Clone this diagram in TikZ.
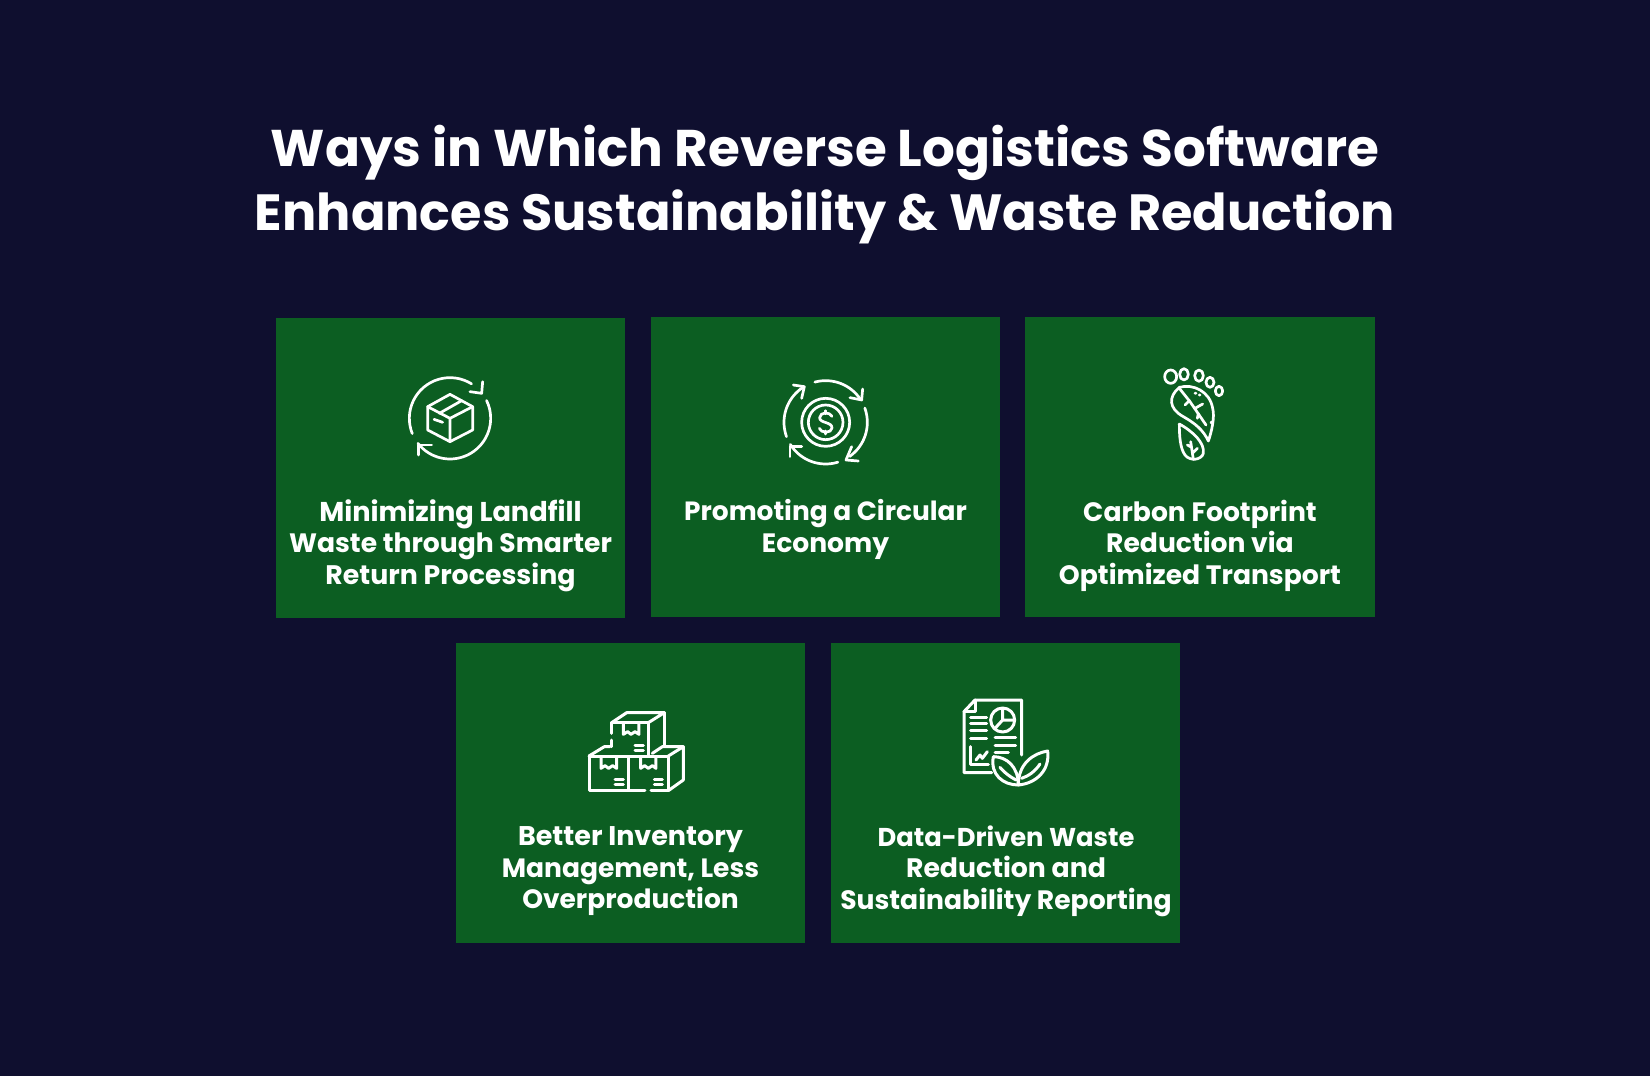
\documentclass[tikz,border=0pt]{standalone}
\usepackage{fontspec}
\setmainfont{Poppins}[BoldFont={Poppins Bold}]
\definecolor{bgnavy}{HTML}{0F0F2F}
\definecolor{cardgreen}{HTML}{0C5E22}
\newcommand{\fsz}[1]{\fontsize{#1}{31.5}\selectfont}
\tikzset{
  card/.style={fill=cardgreen,draw=none,minimum width=349.5pt,minimum height=300pt,inner sep=0pt,outer sep=0pt},
  cardtext/.style={text=white,align=center,font=\fontsize{26.6}{31.5}\selectfont\bfseries,inner sep=0pt},
  titletext/.style={text=white,align=center,font=\fontsize{50.9}{64}\selectfont\bfseries,inner sep=0pt},
  ico/.style={draw=white,line width=2.7pt,line cap=round,line join=round,fill=none},
}
\newcommand{\ringarc}[5]{\draw[ico] plot[smooth,samples=25,domain=#4:#5] ({#1+#3*cos(\x)},{#2+#3*sin(\x)});}
\begin{document}
\begin{tikzpicture}[x=1pt,y=-1pt]
\useasboundingbox (0,0) rectangle (1650,1076);
\fill[bgnavy] (0,0) rectangle (1650,1076);
\node[titletext] (title) at (825,185) {\fontsize{51.6}{64}\selectfont Ways in Which Reverse Logistics Software\\\fontsize{50.9}{64}\selectfont Enhances Sustainability \& Waste Reduction};
\node[card] (c1) at (450.5,468) {};
\node[card] (c2) at (825.5,467) {};
\node[card] (c3) at (1200,467) {};
\node[card] (c4) at (630.5,793) {};
\node[card] (c5) at (1005.5,792.5) {};
\node[cardtext] (t1) at (450.5,545.5) {\fsz{27.2}Minimizing Landfill\\\fsz{26.6}Waste through Smarter\\\fsz{26.8}Return Processing};
\node[cardtext,anchor=north] (t2) at (825.5,499.5) {\fsz{26.4}Promoting a Circular\\\fsz{26.6}Economy};
\node[cardtext] (t3) at (1200,545.5) {Carbon Footprint\\Reduction via\\Optimized Transport};
\node[cardtext] (t4) at (630.5,871.5) {\fsz{27}Better Inventory\\\fsz{26.5}Management, Less\\\fsz{26.5}Overproduction};
\node[cardtext] (t5) at (1006,871) {\fsz{25.8}Data-Driven Waste\\\fsz{26.7}Reduction and\\\fsz{26.6}Sustainability Reporting};
% icon 1
\begin{scope}[shift={(380,360)},x=0.3333pt,y=-0.3333pt]
\ringarc{210}{175}{122}{158}{302}
\draw[ico] (308,65) -- (305,100) -- (270,95);
\ringarc{210}{175}{122}{-26}{142}
\draw[ico] (115,285) -- (115,255) -- (155,255);
\draw[ico] (210,103) -- (278,140) -- (278,210) -- (210,245) -- (143,210) -- (143,140) -- cycle;
\draw[ico] (143,140) -- (210,175) -- (278,140) (210,175) -- (210,245);
\draw[ico] (245,122) -- (178,160);
\draw[ico] (162,178) -- (188,187);
\end{scope}
% icon 2
\begin{scope}[shift={(760,365)},x=0.3333pt,y=-0.3333pt]
\draw[ico] (197,172) circle[radius=72];
\draw[ico] (197,172) circle[radius=52];
\ringarc{197}{172}{125}{-105}{-33}
\draw[ico] (308,72) -- (305,105) -- (270,98);
\ringarc{197}{172}{125}{-20}{55}
\draw[ico] (295,288) -- (258,285) -- (275,245);
\ringarc{197}{172}{125}{73}{148}
\draw[ico] (90,275) -- (90,245) -- (125,245);
\ringarc{197}{172}{125}{160}{237}
\draw[ico] (100,60) -- (133,65) -- (125,100);
\draw[ico] (216,154) .. controls (210,140) and (180,140) .. (179,158) .. controls (178,175) and (217,170) .. (216,189) .. controls (215,206) and (182,205) .. (178,190);
\draw[ico] (197,137) -- (197,146) (197,198) -- (197,207);
\end{scope}
% icon 3
\begin{scope}[shift={(1140,360)},x=0.3333pt,y=-0.3333pt]
\draw[ico] (92,50) ellipse[x radius=18,y radius=20];
\draw[ico] (132,43) ellipse[x radius=13,y radius=17];
\draw[ico] (177,47) ellipse[x radius=13,y radius=17];
\draw[ico] (210,67) ellipse[x radius=12,y radius=15];
\draw[ico] (237,93) ellipse[x radius=11,y radius=14];
\draw[ico] (118,82) .. controls (85,110) and (85,145) .. (130,170) .. controls (165,190) and (190,210) .. (205,243) .. controls (215,215) and (225,170) .. (218,145) .. controls (210,95) and (160,70) .. (118,82) -- cycle;
\draw[ico] (118,85) -- (150,125) -- (198,195);
\draw[ico] (148,122) -- (135,135) (165,145) -- (188,132) (175,160) -- (172,175) (165,100) -- (168,100) (178,105) -- (180,105) (214,186) -- (214,189);
\draw[ico] (118,192) .. controls (160,215) and (195,250) .. (190,280) .. controls (185,300) and (150,305) .. (135,285) .. controls (120,265) and (118,225) .. (118,192) -- cycle;
\draw[ico] (152,245) -- (160,298) (155,262) -- (142,255) (157,280) -- (172,265);
\end{scope}
% icon 4
\begin{scope}[shift={(575,700)},x=0.3333pt,y=-0.3333pt]
\begin{scope}[ico/.append style={line width=3pt}]
\draw[ico] (110,100) -- (110,68) -- (220,68) -- (220,165);
\draw[ico] (110,120) -- (110,140);
\draw[ico] (110,68) -- (155,38) -- (268,38) -- (220,68);
\draw[ico] (268,38) -- (268,135);
\draw[ico] (145,70) -- (145,103) -- (158,95) -- (168,103) -- (180,95) -- (192,103) -- (192,70);
\draw[ico] (180,135) -- (205,135) (180,150) -- (205,150);
\draw[ico] (42,168) rectangle (160,272);
\draw[ico] (42,168) -- (88,140) -- (105,140);
\draw[ico] (160,168) -- (280,168) -- (280,272) -- (228,272);
\draw[ico] (210,272) -- (160,272);
\draw[ico] (280,168) -- (325,140) -- (325,240) -- (280,272);
\draw[ico] (232,160) -- (262,140) -- (325,140);
\draw[ico] (78,170) -- (78,205) -- (90,197) -- (101,205) -- (113,197) -- (125,205) -- (125,170);
\draw[ico] (197,170) -- (197,205) -- (209,197) -- (220,205) -- (232,197) -- (243,205) -- (243,170);
\draw[ico] (120,240) -- (145,240) (120,255) -- (145,255);
\draw[ico] (238,240) -- (262,240) (238,255) -- (262,255);
\end{scope}
\end{scope}
% icon 5
\begin{scope}[shift={(950,690)},x=0.3333pt,y=-0.3333pt]
\begin{scope}[ico/.append style={line width=3pt}]
\draw[ico] (125,248) -- (42,248) -- (42,65) -- (75,30) -- (215,30) -- (215,195);
\draw[ico] (42,65) -- (75,65) -- (75,30);
\draw[ico] (158,90) circle[radius=36];
\draw[ico] (158,55) -- (158,90) -- (193,90) (158,90) -- (135,115);
\draw[ico] (62,82) -- (110,82) (62,100) -- (110,100) (62,122) -- (110,122) (62,145) -- (110,145);
\draw[ico] (135,142) -- (197,142) (135,165) -- (197,165) (135,187) -- (175,187);
\draw[ico] (62,170) -- (62,225) -- (115,225);
\draw[ico] (78,210) -- (90,195) -- (97,205) -- (112,185);
\draw[ico,fill=cardgreen] (130,200) .. controls (170,200) and (205,230) .. (205,285) .. controls (160,285) and (120,255) .. (130,200) -- cycle;
\draw[ico,fill=cardgreen] (293,183) .. controls (250,190) and (205,220) .. (205,285) .. controls (260,280) and (300,240) .. (293,183) -- cycle;
\draw[ico] (150,232) .. controls (165,250) and (180,260) .. (198,270);
\draw[ico] (270,222) .. controls (255,245) and (235,258) .. (215,265);
\end{scope}
\end{scope}
\end{tikzpicture}
\end{document}
